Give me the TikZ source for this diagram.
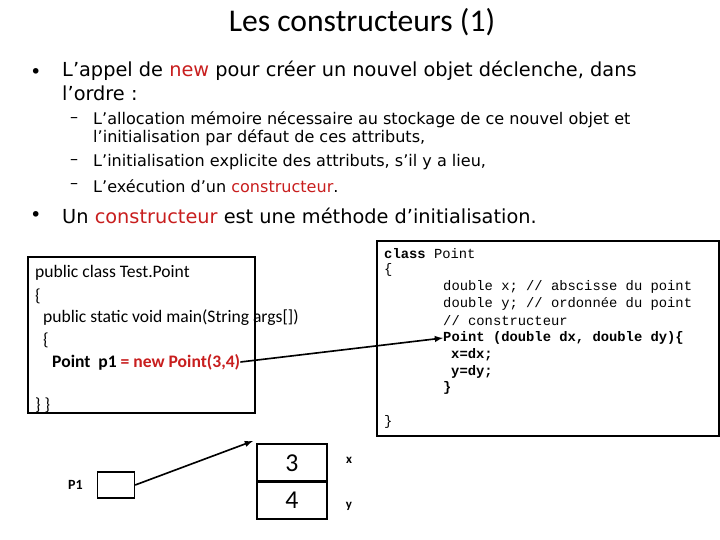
\documentclass[tikz,border=0pt]{standalone}
\usepackage{fontspec}
\setmainfont{DejaVu Sans}
\newfontfamily\calib{Carlito}
\newfontfamily\cour{Liberation Mono}
\usetikzlibrary{positioning}
\definecolor{kwred}{RGB}{200,30,30}
\newcommand\ap{\char"0027\relax}
\tikzset{
  box/.style={draw,line width=1.4pt},
  txt/.style={anchor=west,inner sep=0pt},
  big/.style={txt,font=\fontsize{16.5}{19}\selectfont},
  small/.style={txt,font=\fontsize{13.7}{16}\selectfont},
  code/.style={txt,font=\cour\fontsize{11.8}{14}\selectfont},
  lcode/.style={txt,font=\calib\fontsize{15}{17}\selectfont},
  link/.style={->,>=latex,line width=1.4pt}
}
\begin{document}
\begin{tikzpicture}[x=0.03cm,y=-0.03cm]
\useasboundingbox (0,0) rectangle (720,540);

\node[font=\calib\fontsize{27}{30}\selectfont] (title) at (362,22) {Les constructeurs (1)};

\node[big] at (30,74) {•};
\node[big] at (62,71) {L\ap appel de \textcolor{kwred}{new} pour créer un nouvel objet déclenche, dans};
\node[big] at (62,93) {l\ap ordre :};
\node[small] at (70,120) {–};
\node[small] at (93,120) {L\ap allocation mémoire nécessaire au stockage de ce nouvel objet et};
\node[small] at (93,138) {l\ap initialisation par défaut de ces attributs,};
\node[small] at (70,162) {–};
\node[small] at (93,162) {L\ap initialisation explicite des attributs, s\ap il y a lieu,};
\node[small] at (70,186) {–};
\node[small] at (93,186) {L\ap exécution d\ap un \textcolor{kwred}{constructeur}.};
\node[big] at (30,217) {•};
\node[big] at (62,216) {Un \textcolor{kwred}{constructeur} est une méthode d\ap initialisation.};

% main program
\draw[box] (28,257) rectangle (255,413);
\node[lcode] at (35,273) {public class Test.Point};
\node[lcode] at (35,296) {\{};
\node[lcode] at (43,318) {public static void main(String args{[}{]})};
\node[lcode] at (43,340) {\{};
\node[lcode] (call) at (52,362) {\textbf{Point\ \ p1} \textcolor{kwred}{\textbf{= new Point(3,4)}}};
\node[lcode] at (35,405) {\}\ \}};

% class Point
\draw[line width=1pt] (377,241) rectangle (719,436);
\node[code] at (384,254) {\textbf{class} Point};
\node[code] at (384,270) {\{};
\node[code] at (443,287) {double x; // abscisse du point};
\node[code] at (443,304) {double y; // ordonnée du point};
\node[code] at (443,321) {// constructeur};
\node[code] (ctor) at (443,338) {\textbf{Point (double dx, double dy)\{}};
\node[code] at (451,355) {\textbf{x=dx;}};
\node[code] at (451,372) {\textbf{y=dy;}};
\node[code] at (443,388) {\textbf{\}}};
\node[code] at (384,422) {\}};

% memory
\node[draw,line width=1.4pt,minimum width=1.1cm,minimum height=0.78cm,inner sep=0pt] (ref) at (116,485) {};
\node[font=\calib\bfseries\fontsize{12}{14}\selectfont,left=0.3cm of ref] {P1};
\node[draw,line width=1.4pt,minimum width=2.1cm,minimum height=1.14cm,inner sep=0pt,
  font=\calib\fontsize{22}{24}\selectfont] (vx) at (292,463) {3};
\node[draw,line width=1.4pt,minimum width=2.1cm,minimum height=1.14cm,inner sep=0pt,
  font=\calib\fontsize{22}{24}\selectfont] (vy) at (292,500) {4};
\node[font=\calib\bfseries\fontsize{11}{13}\selectfont] (lx) at (349,460) {x};
\node[font=\calib\bfseries\fontsize{11}{13}\selectfont] (ly) at (349,506) {y};
\coordinate (objtop) at (253,441);

\draw[link] (call.east) -- (ctor.west);
\draw[link] (ref.east) -- (objtop);
\end{tikzpicture}
\end{document}
